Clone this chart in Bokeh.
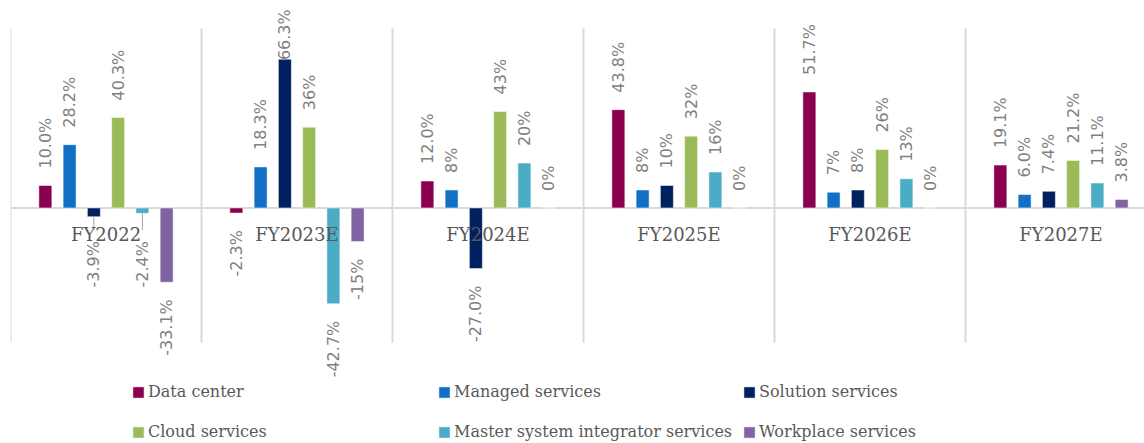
import numpy as np
from bokeh.plotting import figure
from bokeh.models import ColumnDataSource, Range1d, Legend, LegendItem
from bokeh.core.properties import value
from bokeh.embed import file_html
from bokeh.resources import INLINE

# ---------------- data ----------------
categories = ["FY2022", "FY2023E", "FY2024E", "FY2025E", "FY2026E", "FY2027E"]

series_names = ["Data center", "Managed services", "Solution services",
                "Cloud services", "Master system integrator services", "Workplace services"]

data_center = [10.0, -2.3, 12.0, 43.8, 51.7, 19.1]
managed_services = [28.2, 18.3, 8, 8, 7, 6.0]
solution_services = [-3.9, 66.3, -27.0, 10, 8, 7.4]
cloud_services = [40.3, 36, 43, 32, 26, 21.2]
msi_services = [-2.4, -42.7, 20, 16, 13, 11.1]
workplace_services = [-33.1, -15, 0, 0, 0, 3.8]

data_center_labels = ["10.0%", "-2.3%", "12.0%", "43.8%", "51.7%", "19.1%"]
managed_services_labels = ["28.2%", "18.3%", "8%", "8%", "7%", "6.0%"]
solution_services_labels = ["-3.9%", "66.3%", "-27.0%", "10%", "8%", "7.4%"]
cloud_services_labels = ["40.3%", "36%", "43%", "32%", "26%", "21.2%"]
msi_services_labels = ["-2.4%", "-42.7%", "20%", "16%", "13%", "11.1%"]
workplace_services_labels = ["-33.1%", "-15%", "0%", "0%", "0%", "3.8%"]

colors = ["#8A004F", "#1170C6", "#00205F", "#9BBB59", "#4BACC6", "#8064A2"]

series_values = [data_center, managed_services, solution_services,
                 cloud_services, msi_services, workplace_services]
series_labels = [data_center_labels, managed_services_labels, solution_services_labels,
                 cloud_services_labels, msi_services_labels, workplace_services_labels]

# ---------------- figure ----------------
PX_PER_CAT = 191.0
FIG_W, FIG_H = 1144, 443
BORDER_L, BORDER_T = 10, 8
FRAME_W = FIG_W - BORDER_L
FRAME_H = FIG_H - BORDER_T
PX_PER_UNIT = 2.2434
Y_TOP = 88.9
Y_BOT = Y_TOP - FRAME_H / PX_PER_UNIT

p = figure(width=FIG_W, height=FIG_H, output_backend="svg", toolbar_location=None,
           x_axis_location=None, y_axis_location=None,
           x_range=Range1d(0, FRAME_W / PX_PER_CAT), y_range=Range1d(Y_BOT, Y_TOP),
           min_border_left=BORDER_L, min_border_right=0, min_border_top=BORDER_T,
           min_border_bottom=0)
p.grid.visible = False
p.outline_line_color = None
p.background_fill_color = "white"

ncat = len(categories)
cat_x = np.arange(ncat) + 0.5

# vertical separators and zero line
p.segment(x0=np.arange(ncat + 1), x1=np.arange(ncat + 1), y0=[-60] * (ncat + 1), y1=[80] * (ncat + 1),
          line_color="#D9D9D9", line_width=2)
p.segment(x0=[0], x1=[ncat], y0=[0], y1=[0], line_color="#D9D9D9", line_width=2)

pitch = 0.127
bar_w = 0.068
gap = 17 / PX_PER_UNIT
label_len = 50 / PX_PER_UNIT
top_lim = Y_TOP - 0.7
cat_label_half = 42 / PX_PER_CAT
push_top = -14.8

renderers = []
lab_x, lab_y, lab_t, lab_align = [], [], [], []
lead_x, lead_y0, lead_y1 = [], [], []
for i, (name, vals, labs, col) in enumerate(zip(series_names, series_values, series_labels, colors)):
    off = (i - 2.5) * pitch
    xs = cat_x + off
    src = ColumnDataSource(dict(x=xs, top=vals))
    r = p.vbar(x="x", top="top", bottom=0, width=bar_w, source=src,
               fill_color=col, line_color="white", line_width=1, line_alpha=0.5)
    renderers.append(r)
    for x, v, t in zip(xs, vals, labs):
        if v >= 0:
            y = min(v + gap, top_lim - label_len)
            lab_align.append("left")
        else:
            y = v - gap
            if abs(off) < cat_label_half and y > push_top:
                lead_x.append(x)
                lead_y0.append(v)
                lead_y1.append(push_top + 4.8)
                y = push_top
            lab_align.append("right")
        lab_x.append(x)
        lab_y.append(y)
        lab_t.append(t)

p.segment(x0=lead_x, x1=lead_x, y0=lead_y0, y1=lead_y1, line_color="#A6A6A6", line_width=1)

lsrc = ColumnDataSource(dict(x=lab_x, y=lab_y, t=lab_t, a=lab_align))
p.text(x="x", y="y", text="t", source=lsrc, angle=np.pi / 2, text_align="a",
       text_baseline="middle", text_font=value("DejaVu Sans"), text_font_size="16px",
       text_color="#808080")

csrc = ColumnDataSource(dict(x=cat_x, y=[-12] * ncat, t=categories))
p.text(x="x", y="y", text="t", source=csrc, text_align="center", text_baseline="middle",
       text_font=value("DejaVu Serif"), text_font_size="18px", text_color="#595959")

# legend: 2 rows x 3 columns (positions relative to frame bottom-left)
col_x = [121, 427, 732]
row_y = [51, 11]
for i, (name, r) in enumerate(zip(series_names, renderers)):
    row, c = divmod(i, 3)
    lg = Legend(items=[LegendItem(label=name, renderers=[r])],
                location=(col_x[c], row_y[row] - 9), orientation="horizontal",
                glyph_width=14, glyph_height=14, label_standoff=3,
                padding=0, margin=0, spacing=0,
                border_line_alpha=0, background_fill_alpha=0,
                label_text_font="DejaVu Serif", label_text_font_size="16px",
                label_text_color="#595959")
    p.add_layout(lg)

open("out.html", "w").write(file_html(p, INLINE))
